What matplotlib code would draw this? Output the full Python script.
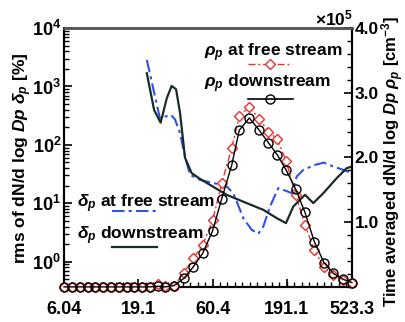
import math
import matplotlib
matplotlib.use('Agg')
import matplotlib.pyplot as plt
from matplotlib.lines import Line2D
from matplotlib.ticker import FixedLocator, FuncFormatter, MultipleLocator, NullFormatter, LogLocator

plt.rcParams['font.family'] = ['Liberation Sans', 'DejaVu Sans']
plt.rcParams['font.weight'] = 'bold'
plt.rcParams['mathtext.fontset'] = 'custom'
plt.rcParams['mathtext.rm'] = 'Liberation Sans:bold'
plt.rcParams['mathtext.it'] = 'Liberation Sans:italic:bold'
plt.rcParams['mathtext.bf'] = 'Liberation Sans:bold'

# particle diameter channels [nm]
diam = [6.04, 6.85, 7.73, 8.72, 9.83, 11.09, 12.51, 14.12, 15.93, 17.98,
        20.29, 22.9, 25.8, 28.9, 33.2, 38.8, 44.8, 51.8, 60.5, 69.5,
        81.2, 91.3, 106.7, 124.5, 143.2, 164.7, 188.3, 218.9, 252.8, 292.0,
        339.4, 392.0, 453.5, 523.3]

# time averaged number concentration, x1e5 cm^-3
rho_free = [0, 0, 0, 0, 0, 0, 0, 0, 0, 0,
            0, 0, 0.04, 0.01, 0.02, 0.22, 0.44, 0.65, 1.03, 1.60,
            2.14, 2.64, 2.78, 2.59, 2.40, 2.28, 1.95, 1.42, 0.96, 0.57,
            0.30, 0.185, 0.11, 0.066]
rho_down = [0, 0, 0, 0, 0, 0, 0, 0, 0, 0,
            0, 0, 0.01, 0.0, 0.02, 0.134, 0.31, 0.52, 0.87, 1.36,
            1.88, 2.42, 2.61, 2.42, 2.23, 2.04, 1.81, 1.51, 1.15, 0.70,
            0.375, 0.21, 0.12, 0.066]

# rms fluctuation [%]
delta_free_d = [21.8, 26.7, 31.6, 33.7, 36.5, 39.4, 42.6, 49.7, 61.1, 73.2,
                83.3, 97.2, 110.7, 122.6, 132.5, 147.0, 167.2, 185.5, 205.7, 222.3,
                246.3, 295.2, 339.4, 392.0, 457.6, 523.3]
delta_free = [2838, 286, 326, 275, 158, 62.4, 30.7, 25.2, 22.1, 20.7,
              14.9, 5.58, 3.52, 3.01, 4.01, 8.81, 18.2, 16.6, 14.9, 28.7,
              37.4, 45.5, 49.8, 42.6, 37.4, 32.8]
delta_down_d = [21.8, 24.4, 27.0, 29.7, 32.0, 34.3, 36.5, 39.4, 43.7, 49.7,
                75.1, 102.4, 132.5, 163.1, 188.3, 210.9, 252.8, 287.6, 335.8, 413.3,
                482.5, 523.3]
delta_down = [1680, 396, 240, 628, 1020, 896, 348, 60, 32.8, 26.2,
              14.0, 10.1, 7.74, 5.58, 4.59, 8.81, 14.0, 10.1, 14.9, 27.0,
              40.0, 42.6]

xticks = [6.04, 19.1, 60.4, 191.1, 523.3]
xticklabels = ['6.04', '19.1', '60.4', '191.1', '523.3']

RED = '#e8322a'
BLUE = '#3050ee'
DARK = '#1b2b27'

fig = plt.figure(figsize=(4.05, 3.22), dpi=100)
ax = fig.add_axes([0.158, 0.109, 0.711, 0.804])
ax2 = ax.twinx()

# left axis: rms
ax.plot(delta_free_d, delta_free, color=BLUE, lw=1.5, dashes=(6, 2, 1.5, 2))
ax.plot(delta_down_d, delta_down, color=DARK, lw=1.6)
ax.set_xscale('log')
ax.set_yscale('log')
ax.set_xlim(6.04, 523.3)
ax.set_ylim(10 ** -0.43, 1e4)

# right axis: concentration
ax2.plot(diam, rho_free, color=RED, lw=1.0, dashes=(5, 2, 1.5, 2), marker='D', ms=5,
         mfc='white', mec=RED, mew=1.0, clip_on=False, zorder=3)
ax2.plot(diam, rho_down, color='black', lw=1.0, marker='o', ms=6.5,
         mfc='none', mec='black', mew=1.0, clip_on=False, zorder=4)
ax2.set_ylim(0, 4.0)

ax.xaxis.set_major_locator(FixedLocator(xticks))
ax.set_xticklabels(xticklabels)
minor_x = [6.04 * 10 ** (k / 20) for k in range(1, 39)]
ax.xaxis.set_minor_locator(FixedLocator(minor_x))
ax.xaxis.set_minor_formatter(NullFormatter())

ax.yaxis.set_major_locator(LogLocator(base=10, numticks=10))
ax.yaxis.set_minor_locator(LogLocator(base=10, subs=range(2, 10), numticks=20))
ax.yaxis.set_minor_formatter(NullFormatter())
ax.yaxis.set_major_formatter(FuncFormatter(lambda v, p: r'$\mathbf{10^{%d}}$' % round(math.log10(v))))

ax2.yaxis.set_major_locator(FixedLocator([1, 2, 3, 4]))
ax2.yaxis.set_minor_locator(MultipleLocator(0.2))
ax2.yaxis.set_major_formatter(FuncFormatter(lambda v, p: '%.1f' % v))

ax.tick_params(axis='x', which='major', direction='in', length=6, width=1.2, top=False,
               labelsize=13, pad=10)
ax.tick_params(axis='x', which='minor', direction='in', length=3.5, width=1.0, top=False)
ax.tick_params(axis='y', which='major', direction='in', length=6, width=1.2, labelsize=13, pad=2)
ax.tick_params(axis='y', which='minor', direction='in', length=3.5, width=1.0)
ax2.tick_params(axis='y', which='major', direction='in', length=6, width=1.2, labelsize=12.5, pad=2)
ax2.tick_params(axis='y', which='minor', direction='in', length=3.5, width=1.0)

for a in (ax, ax2):
    for s in a.spines.values():
        s.set_linewidth(1.5)
        s.set_color('black')
    a.spines['top'].set_color('#555555')
    a.spines['top'].set_linewidth(1.8)

fig.text(0.055, 0.51, r'rms of dN/d log $Dp$ $\delta_p$ [%]', rotation=90,
         ha='center', va='center', fontsize=12.5)
fig.text(0.97, 0.5, r'Time averaged dN/d log $Dp$ $\rho_p$ [cm$^{-3}$]', rotation=90,
         ha='center', va='center', fontsize=12)
fig.text(0.872, 0.944, r'$\times$10$^{5}$', ha='right', va='center', fontsize=12.5)

# legends: text with sample line below
def entry(x, y, label, lx0, lx1, ly, **kw):
    ax2.text(x, y, label, transform=ax2.transAxes, fontsize=12.5, va='center', ha='left')
    ax2.add_line(Line2D([lx0, lx1], [ly, ly], transform=ax2.transAxes, **kw))

entry(0.485, 0.905, r'$\rho_p$ at free stream', 0.639, 0.792, 0.862,
      color=RED, lw=1.0, dashes=(5, 2, 1.5, 2))
ax2.add_line(Line2D([0.715], [0.862], transform=ax2.transAxes, marker='D', ms=5,
                    mfc='white', mec=RED, mew=1.0, ls='none'))
entry(0.485, 0.783, r'$\rho_p$ downstream', 0.639, 0.795, 0.726, color='black', lw=1.2)
ax2.add_line(Line2D([0.715], [0.726], transform=ax2.transAxes, marker='o', ms=6.5,
                    mfc='none', mec='black', mew=1.0, ls='none'))
entry(0.045, 0.32, r'$\delta_p$ at free stream', 0.166, 0.327, 0.295,
      color=BLUE, lw=1.5, dashes=(6, 2, 1.5, 2))
entry(0.045, 0.198, r'$\delta_p$ downstream', 0.166, 0.322, 0.153, color=DARK, lw=1.6)

fig.savefig('out.png', dpi=100)
